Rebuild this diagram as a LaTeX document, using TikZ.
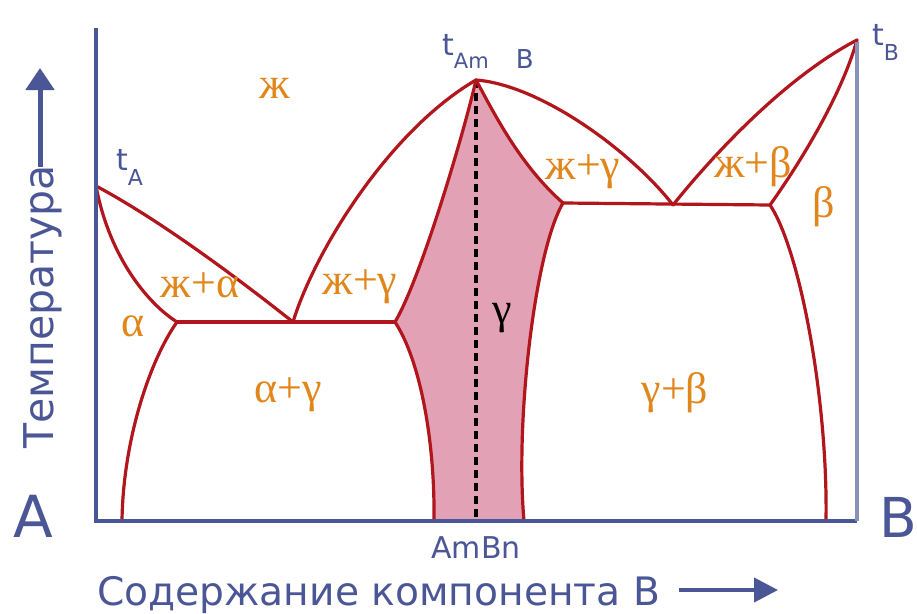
\documentclass[tikz,border=0pt]{standalone}
\usepackage{fontspec}
\setmainfont{Liberation Serif}
\newfontfamily\lblfont{Liberation Serif}
\newfontfamily\blfont{DejaVu Sans}
\usetikzlibrary{arrows.meta}
\definecolor{redline}{HTML}{B0161C}
\definecolor{pinkfill}{HTML}{E3A1B5}
\definecolor{orng}{HTML}{E0861A}
\definecolor{axblue}{HTML}{4A5695}
\newcommand{\fsz}[1]{\fontsize{#1}{#1}\selectfont}
\begin{document}
\begin{tikzpicture}[x=1pt,y=-1pt,
  phase/.style={draw=redline,line width=3.2pt,line join=round,line cap=round},
  axisline/.style={draw=axblue,line width=4pt},
  lbl/.style={text=orng,inner sep=0pt,font=\lblfont\fsz{44}},
  bl/.style={text=axblue,inner sep=0pt}]
\useasboundingbox[fill=white] (0,0) rectangle (917,613);
% key points
\coordinate (tA) at (96,186);
\coordinate (tAB) at (476,80);
\coordinate (tB) at (857,40);
\coordinate (E1) at (293,322);
\coordinate (a1) at (177,322);
\coordinate (g1) at (395,322);
\coordinate (E2) at (673,205);
\coordinate (g2) at (563,203);
\coordinate (b1) at (770,205);
\coordinate (a1b) at (122,521);
\coordinate (g1b) at (434,521);
\coordinate (g2b) at (524,521);
\coordinate (b1b) at (826,521);
\coordinate (dashb) at (476,521);
\coordinate (axtop) at (96,28);
\coordinate (axorig) at (96,521);
\coordinate (axright) at (857,521);
\coordinate (axrtop) at (857,42);
% pink gamma region
\fill[pinkfill] (tAB) .. controls (462,140) and (420,280) .. (g1)
  .. controls (420,360) and (435,440) .. (g1b) -- (g2b)
  .. controls (515,420) and (535,250) .. (g2)
  .. controls (520,165) and (495,115) .. (tAB) -- cycle;
% dashed composition line
\draw[black,line width=3.2pt,dash pattern=on 8pt off 5pt] (tAB) -- (dashb);
% phase boundaries
\draw[phase] (tA) .. controls (160,220) and (240,280) .. (E1);
\draw[phase] (tA) .. controls (110,260) and (150,305) .. (a1);
\draw[phase] (E1) .. controls (315,250) and (390,130) .. (tAB);
\draw[phase] (tAB) .. controls (462,140) and (420,280) .. (g1);
\draw[phase] (a1) -- (g1);
\draw[phase] (a1) .. controls (150,360) and (123,440) .. (a1b);
\draw[phase] (g1) .. controls (420,360) and (435,440) .. (g1b);
\draw[phase] (tAB) .. controls (540,85) and (630,150) .. (E2);
\draw[phase] (tAB) .. controls (495,115) and (520,165) .. (g2);
\draw[phase] (g2) -- (b1);
\draw[phase] (E2) .. controls (705,165) and (780,80) .. (tB);
\draw[phase] (b1) .. controls (795,170) and (840,100) .. (tB);
\draw[phase] (g2) .. controls (535,250) and (515,420) .. (g2b);
\draw[phase] (b1) .. controls (800,250) and (828,400) .. (b1b);
% axes
\draw[axisline] (axtop) -- (axorig) -- (axright);
\draw[draw=axblue!65,line width=4pt] (axrtop) -- (axright);
% region labels
\node[lbl] (Lliq) at (275,88) {ж};
\node[lbl] (Lla) at (200,285) {ж+α};
\node[lbl] (Llg1) at (360,287) {ж+γ};
\node[lbl] (La) at (133,326) {α};
\node[lbl] (Lag) at (288,395) {α+γ};
\node[lbl,text=black] (Lg) at (502,318) {γ};
\node[lbl] (Llg2) at (583,172) {ж+γ};
\node[lbl] (Llb) at (753,167) {ж+β};
\node[lbl] (Lb) at (824,207) {β};
\node[lbl] (Lgb) at (675,393) {γ+β};
% temperature labels
\node[bl,anchor=base west,font=\blfont] (ltA) at (116,170) {{\fsz{30}t}\raisebox{-15pt}{\fsz{22}A}};
\node[bl,anchor=base west,font=\blfont] (ltAB) at (442,55) {{\fsz{30}t}\raisebox{-13pt}{\fsz{21}Am\hspace{27pt}{\fsz{26}B}}};
\node[bl,anchor=base west,font=\blfont] (ltB) at (872,45) {{\fsz{30}t}\raisebox{-15pt}{\fsz{22}B}};
% axis labels
\node[bl,anchor=base west,font=\blfont\fsz{58}] (lA) at (13,537) {A};
\node[bl,anchor=base west,font=\blfont\fsz{55}] (lB) at (879,537) {B};
\node[bl,anchor=base,font=\blfont\fsz{30}] (lAmBn) at (476,558) {AmBn};
\node[bl,anchor=base west,font=\blfont\fsz{39.2}] (lx) at (97,605) {Содержание компонента В};
\node[bl,anchor=base west,rotate=90,font=\blfont\fsz{41}] (ly) at (53,449) {Температура};
% axis arrows
\coordinate (yarr0) at (40,167);
\coordinate (yarr1) at (40,68);
\coordinate (xarr0) at (679,590);
\coordinate (xarr1) at (778,590);
\draw[axblue,line width=5pt,-{Triangle[length=22pt,width=28pt]}] (yarr0) -- (yarr1);
\draw[axblue,line width=4pt,-{Triangle[length=24pt,width=24pt]}] (xarr0) -- (xarr1);
\end{tikzpicture}
\end{document}
